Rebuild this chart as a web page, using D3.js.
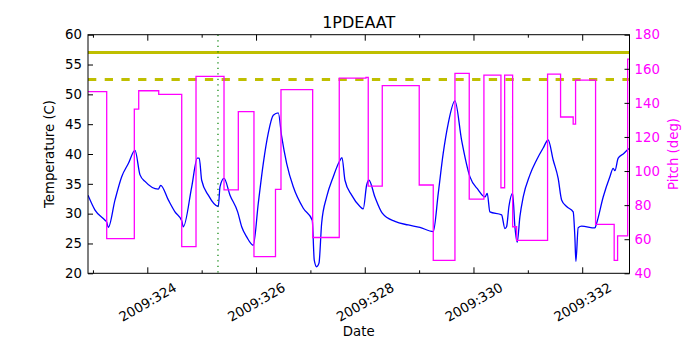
<!DOCTYPE html>
<html>
<head>
<meta charset="utf-8">
<script src="https://cdn.jsdelivr.net/npm/d3@7"></script>
<style>
    body { margin: 0; background: #fff; }
    #chart-area { width: 700px; height: 350px; }
    text { font-family: "DejaVu Sans", sans-serif; }
</style>
</head>
<body>
<div id="chart-area"></div>
<script>

// temperature trace (day of year 2009, deg C)
let tempDays = [322.909, 323.038, 323.222, 323.253, 323.283, 323.406, 323.529, 323.651, 323.774, 323.866,
    323.958, 324.202, 324.246, 324.386, 324.509, 324.633, 324.662, 324.817, 324.920, 324.956,
    325.000, 325.122, 325.306, 325.337, 325.411, 325.521, 325.662, 325.736, 325.828, 325.949,
    326.041, 326.133, 326.225, 326.317, 326.409, 326.472, 326.564, 326.685, 326.869, 327.034,
    327.071, 327.115, 327.158, 327.207, 327.299, 327.421, 327.531, 327.581, 327.636, 327.759,
    327.912, 327.972, 328.035, 328.077, 328.187, 328.322, 328.555, 328.800, 329.015, 329.260,
    329.352, 329.443, 329.535, 329.659, 329.782, 329.934, 330.087, 330.210, 330.253, 330.302,
    330.517, 330.578, 330.609, 330.652, 330.720, 330.762, 330.804, 330.854, 330.915, 331.038,
    331.161, 331.282, 331.374, 331.466, 331.558, 331.621, 331.713, 331.834, 331.865, 331.884,
    331.926, 331.989, 332.233, 332.265, 332.386, 332.509, 332.570, 332.601, 332.662, 332.754,
    332.846, 332.877];
let tempValues = [33.1, 30.6, 28.9, 28.6, 27.7, 32.3, 36.2, 38.4, 40.6, 36.5,
    35.4, 34.1, 34.75, 32.3, 30.3, 28.8, 27.8, 34.5, 39.3, 39.3,
    35.6, 33.1, 31.2, 34.5, 35.9, 33.1, 30.3, 27.8, 26.1, 24.7,
    31.7, 38.4, 43.5, 46.5, 46.9, 42.9, 38.4, 34.5, 30.9, 28.9,
    22.2, 21.1, 21.7, 28.4, 32.8, 36.2, 38.7, 39.4, 35.6, 33.1,
    31.2, 30.8, 34.8, 35.6, 32.8, 30.1, 28.7, 28.1, 27.7, 27.0,
    33.4, 40.1, 45.1, 48.9, 42.3, 36.2, 34.0, 32.8, 33.4, 30.3,
    29.8, 27.5, 27.8, 31.2, 33.4, 27.8, 25.2, 29.5, 32.8, 36.5,
    39.0, 41.0, 42.35, 39.0, 35.9, 32.3, 31.2, 30.3, 26.1, 22.0,
    27.65, 27.9, 27.6, 28.4, 32.8, 36.2, 37.6, 37.2, 39.3, 40.0,
    40.8, 41.0];

// pitch attitude (deg), value holds until the next day in the list
let pitchDays = [322.909, 323.253, 323.761, 323.842, 324.210, 324.633, 324.896, 325.411, 325.674, 325.962,
    326.358, 326.459, 327.042, 327.531, 328.022, 328.064, 328.322, 329.002, 329.260, 329.659,
    329.922, 330.192, 330.505, 330.573, 330.720, 330.793, 331.363, 331.602, 331.834, 331.878,
    332.246, 332.588, 332.651, 332.836, 332.877];
let pitchValues = [146.6, 60.3, 136.3, 147.1, 145.0, 55.7, 155.6, 89.0, 134.9, 49.8,
    89.3, 147.8, 61.0, 154.5, 155.0, 91.1, 150.1, 91.8, 47.6, 157.3,
    83.5, 156.3, 90.2, 156.3, 67.3, 59.3, 156.9, 131.7, 127.5, 153.4,
    68.7, 47.6, 62.0, 165.7, 165.7];

// planning limits (deg C) and marker time
let limitSolid = 57.0;
let limitDashed = 52.5;
let markerDay = 325.30;

// axes ticks
let majorDays = [324, 326, 328, 330, 332];
let minorDays = [323, 325, 327, 329, 331];
let tempTicks = [20, 25, 30, 35, 40, 45, 50, 55, 60];
let pitchTicks = [40, 60, 80, 100, 120, 140, 160, 180];


class TempPitchVis {

    constructor(parentElement) {
        this.parentElement = parentElement;
        this.initVis();
    }

    initVis() {
        let vis = this;

        vis.margin = {top: 34.7, right: 70.5, bottom: 76.7, left: 88};
        vis.width = 700 - vis.margin.left - vis.margin.right;
        vis.height = 350 - vis.margin.top - vis.margin.bottom;

        vis.svg = d3.select("#" + vis.parentElement).append("svg")
            .attr("width", 700)
            .attr("height", 350)
            .append("g")
            .attr("transform", `translate(${vis.margin.left}, ${vis.margin.top})`);

        // scales
        vis.x = d3.scaleLinear().domain([322.909, 332.87]).range([0, vis.width]);
        vis.y = d3.scaleLinear().domain([20, 60]).range([vis.height, 0]);
        vis.yPitch = d3.scaleLinear().domain([40, 180]).range([vis.height, 0]);

        vis.svg.append("clipPath").attr("id", "plot-clip")
            .append("rect").attr("width", vis.width).attr("height", vis.height);

        vis.plot = vis.svg.append("g").attr("clip-path", "url(#plot-clip)");

        vis.updateVis();
    }

    updateVis() {
        let vis = this;

        // temperature
        let tempLine = d3.line()
            .x((d, i) => vis.x(tempDays[i]))
            .y(d => vis.y(d))
            .curve(d3.curveMonotoneX);

        vis.plot.append("path")
            .datum(tempValues)
            .attr("d", tempLine)
            .attr("fill", "none")
            .attr("stroke", "#0000ff")
            .attr("stroke-width", 1.3);

        // limit lines
        vis.plot.append("line")
            .attr("x1", 0).attr("x2", vis.width)
            .attr("y1", vis.y(limitSolid)).attr("y2", vis.y(limitSolid))
            .attr("stroke", "#bfbf00")
            .attr("stroke-width", 3);

        vis.plot.append("line")
            .attr("x1", 0).attr("x2", vis.width)
            .attr("y1", vis.y(limitDashed)).attr("y2", vis.y(limitDashed))
            .attr("stroke", "#bfbf00")
            .attr("stroke-width", 3)
            .attr("stroke-dasharray", "8.3,8.4");

        // marker
        vis.plot.append("line")
            .attr("x1", vis.x(markerDay)).attr("x2", vis.x(markerDay))
            .attr("y1", 0).attr("y2", vis.height)
            .attr("stroke", "#008000")
            .attr("stroke-width", 1.2)
            .attr("stroke-dasharray", "1.2,4.3");

        // pitch
        let pitchLine = d3.line()
            .x((d, i) => vis.x(pitchDays[i]))
            .y(d => vis.yPitch(d))
            .curve(d3.curveStepAfter);

        vis.plot.append("path")
            .datum(pitchValues)
            .attr("d", pitchLine)
            .attr("fill", "none")
            .attr("stroke", "#ff00ff")
            .attr("stroke-width", 1.3);

        // axes, ticks point inward
        let xAxis = d3.axisBottom(vis.x)
            .tickValues(majorDays)
            .tickSizeInner(-6).tickSizeOuter(0)
            .tickFormat(d => "2009:" + d);

        let xMinor = d3.axisBottom(vis.x)
            .tickValues(minorDays)
            .tickSizeInner(-3).tickSizeOuter(0)
            .tickFormat("");

        let xTop = d3.axisTop(vis.x)
            .tickValues(majorDays)
            .tickSizeInner(-6).tickSizeOuter(0)
            .tickFormat("");

        let xTopMinor = d3.axisTop(vis.x)
            .tickValues(minorDays)
            .tickSizeInner(-3).tickSizeOuter(0)
            .tickFormat("");

        let yAxis = d3.axisLeft(vis.y)
            .tickValues(tempTicks)
            .tickSizeInner(-5).tickSizeOuter(0)
            .tickPadding(6);

        let yRight = d3.axisRight(vis.yPitch)
            .tickValues(pitchTicks)
            .tickSizeInner(-5).tickSizeOuter(0)
            .tickPadding(5);

        let gx = vis.svg.append("g")
            .attr("class", "x-axis axis")
            .attr("transform", `translate(0, ${vis.height})`)
            .call(xAxis);

        gx.selectAll("text")
            .attr("y", null)
            .attr("dy", null)
            .attr("text-anchor", "middle")
            .attr("dominant-baseline", "central")
            .attr("transform", "translate(0, 29) rotate(-30)");

        vis.svg.append("g")
            .attr("transform", `translate(0, ${vis.height})`)
            .call(xMinor);

        vis.svg.append("g").call(xTop);
        vis.svg.append("g").call(xTopMinor);

        vis.svg.append("g")
            .attr("class", "y-axis axis")
            .call(yAxis);

        let gr = vis.svg.append("g")
            .attr("class", "y-axis axis")
            .attr("transform", `translate(${vis.width}, 0)`)
            .call(yRight);

        gr.selectAll("text").attr("fill", "#ff00ff");

        vis.svg.selectAll(".domain").remove();
        vis.svg.selectAll(".tick line").attr("stroke", "#000");
        vis.svg.selectAll(".tick text")
            .style("font-family", "'DejaVu Sans', sans-serif")
            .style("font-size", "13.3px");

        // frame
        vis.svg.append("rect")
            .attr("width", vis.width)
            .attr("height", vis.height)
            .attr("fill", "none")
            .attr("stroke", "#000")
            .attr("stroke-width", 1);

        // labels
        vis.svg.append("text")
            .attr("x", vis.width / 2)
            .attr("y", -7)
            .attr("text-anchor", "middle")
            .style("font-size", "16px")
            .text("1PDEAAT");

        vis.svg.append("text")
            .attr("x", vis.width / 2)
            .attr("y", 301)
            .attr("text-anchor", "middle")
            .style("font-size", "13.3px")
            .text("Date");

        vis.svg.append("text")
            .attr("transform", `translate(-34, ${vis.height / 2}) rotate(-90)`)
            .attr("text-anchor", "middle")
            .style("font-size", "13.3px")
            .text("Temperature (C)");

        vis.svg.append("text")
            .attr("transform", `translate(${vis.width + 48}, ${vis.height / 2}) rotate(-90)`)
            .attr("text-anchor", "middle")
            .attr("fill", "#ff00ff")
            .style("font-size", "13.3px")
            .text("Pitch (deg)");
    }
}

new TempPitchVis("chart-area");

</script>
</body>
</html>
